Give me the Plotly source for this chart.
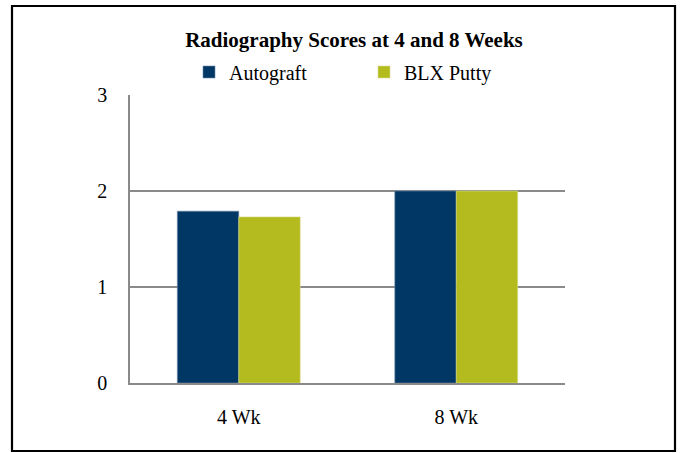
import plotly.graph_objects as go

categories = ["4 Wk", "8 Wk"]
autograft = [1.79, 2.0]
blx_putty = [1.73, 2.0]
y_ticks = [0, 1, 2, 3]

W, H = 681, 453
L, R, T, B = 130, 116, 95, 70
pw, ph = W - L - R, H - T - B

def px_x(p):
    return (p - L) / pw

def px_y(p):
    return (H - B - p) / ph

font_family = "Liberation Serif, Times New Roman, serif"

fig = go.Figure()
fig.add_trace(go.Bar(name="Autograft", x=categories, y=autograft,
                     marker=dict(color="#003764", line=dict(color="#6f8aa8", width=0.6))))
fig.add_trace(go.Bar(name="BLX Putty", x=categories, y=blx_putty,
                     marker=dict(color="#B3BB1F", line=dict(color="#d8dc8a", width=0.6))))

fig.update_layout(
    width=W, height=H,
    margin=dict(l=L, r=R, t=T, b=B, autoexpand=False),
    paper_bgcolor="white", plot_bgcolor="white",
    barmode="group", bargap=0.435, bargroupgap=0,
    font=dict(family=font_family, size=20, color="black"),
    title=dict(text="<b>Radiography Scores at 4 and 8 Weeks</b>",
               x=354 / W, xref="container", xanchor="center",
               y=1 - 40 / H, yref="container", yanchor="middle",
               font=dict(family=font_family, size=21, color="black")),
    legend=dict(orientation="h", x=px_x(189), y=px_y(72), xanchor="left", yanchor="middle",
                entrywidth=130, entrywidthmode="pixels", itemwidth=30,
                font=dict(family=font_family, size=20, color="black"),
                bgcolor="rgba(0,0,0,0)", traceorder="normal"),
    showlegend=True,
)

fig.update_yaxes(range=[0, 3], tickvals=y_ticks, showgrid=True, gridcolor="#8a8a8a", gridwidth=1.5,
                 showline=True, linecolor="#8a8a8a", linewidth=1.5, zeroline=False,
                 ticks="", ticklabelstandoff=17, fixedrange=True)
fig.update_xaxes(showgrid=False, showline=True, linecolor="#8a8a8a", linewidth=1.5,
                 ticks="", ticklabelstandoff=15, fixedrange=True)

# outer frame of the chart
fig.add_shape(type="rect", xref="paper", yref="paper",
              x0=px_x(12), x1=px_x(675), y0=px_y(451), y1=px_y(6),
              line=dict(color="black", width=2.2), fillcolor="rgba(0,0,0,0)", layer="above")

fig.write_html("out.html", config={"displayModeBar": False},
               post_script="document.body.style.margin='0';document.body.style.overflow='hidden';")
